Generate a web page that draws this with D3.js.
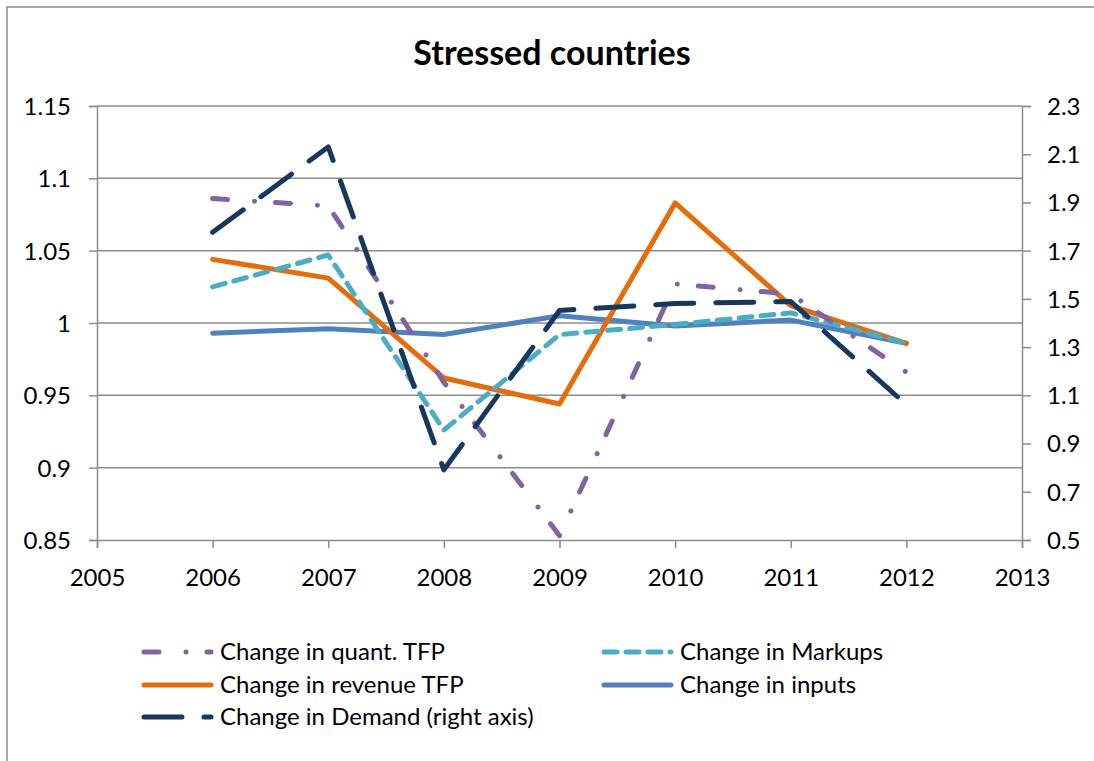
<!DOCTYPE html>
<html><head><meta charset="utf-8">
<script src="https://cdn.jsdelivr.net/npm/d3@7"></script>
<style>body{margin:0;background:#fff;} svg{display:block;} text{font-family:Lato, "Open Sans", sans-serif;fill:#000;}</style>
</head><body>
<svg id="c" width="1094" height="761"></svg>
<script>
const years = [2006, 2007, 2008, 2009, 2010, 2011, 2012];
const quantTFP   = [1.086, 1.081, 0.959, 0.853, 1.027, 1.020, 0.966];
const markups    = [1.025, 1.047, 0.926, 0.992, 0.999, 1.007, 0.986];
const revenueTFP = [1.044, 1.031, 0.962, 0.944, 1.083, 1.012, 0.986];
const inputs     = [0.993, 0.996, 0.992, 1.005, 0.998, 1.002, 0.986];
const demand     = [1.776, 2.130, 0.791, 1.452, 1.481, 1.489, 1.061];
const leftTicks  = [0.85, 0.9, 0.95, 1, 1.05, 1.1, 1.15];
const rightTicks = [0.5, 0.7, 0.9, 1.1, 1.3, 1.5, 1.7, 1.9, 2.1, 2.3];
const xTicks     = [2005, 2006, 2007, 2008, 2009, 2010, 2011, 2012, 2013];

const svg = d3.select("#c");
const L = 97, R = 1022, T = 106, B = 540;
const x = d3.scaleLinear().domain([2005, 2013]).range([L, R]);
const yL = d3.scaleLinear().domain([0.85, 1.15]).range([B, T]);
const yR = d3.scaleLinear().domain([0.5, 2.3]).range([B, T]);

// frame
svg.append("rect").attr("x", 7).attr("y", 7).attr("width", 1100).attr("height", 800)
  .attr("fill", "none").attr("stroke", "#8c8c8c").attr("stroke-width", 1.5);

// title
svg.append("text").attr("x", 552).attr("y", 65).attr("text-anchor", "middle")
  .style("font-size", "34px").style("font-weight", "bold").text("Stressed countries");

// gridlines
svg.append("g").selectAll("line").data(leftTicks.slice(1)).join("line")
  .attr("x1", L).attr("x2", R).attr("y1", d => yL(d)).attr("y2", d => yL(d))
  .attr("stroke", "#8c8c8c").attr("stroke-width", 1.5);

const gray = "#8c8c8c";
const ga = svg.append("g").attr("transform", `translate(${L},0)`)
  .call(d3.axisLeft(yL).tickValues(leftTicks).tickSize(8).tickPadding(18).tickFormat(d => String(+d.toFixed(2))));
const gr = svg.append("g").attr("transform", `translate(${R},0)`)
  .call(d3.axisRight(yR).tickValues(rightTicks).tickSize(9).tickPadding(16).tickFormat(d => String(+d.toFixed(1))));
const gb = svg.append("g").attr("transform", `translate(0,${B})`)
  .call(d3.axisBottom(x).tickValues(xTicks).tickSize(8).tickPadding(21).tickFormat(d3.format("d")));
[ga, gr, gb].forEach(g => {
  g.select(".domain").attr("stroke", gray).attr("stroke-width", 1.5);
  g.selectAll(".tick line").attr("stroke", gray).attr("stroke-width", 1.5);
  g.selectAll("text").style("font-size", "24px").attr("fill", "#000");
});
ga.selectAll("text").attr("dy", "0.35em");
gr.selectAll("text").attr("dy", "0.35em");

const series = [
  {name: "Change in quant. TFP", vals: quantTFP, y: yL, color: "#8064A2", dash: "15,27,0.01,21"},
  {name: "Change in Markups", vals: markups, y: yL, color: "#4BACC6", dash: "13,9"},
  {name: "Change in revenue TFP", vals: revenueTFP, y: yL, color: "#E46C0A", dash: null},
  {name: "Change in inputs", vals: inputs, y: yL, color: "#4F81BD", dash: null},
  {name: "Change in Demand (right axis)", vals: demand, y: yR, color: "#17375E", dash: "38,22"}
];
const drawOrder = [3, 2, 1, 0, 4];
drawOrder.forEach(i => {
  const s = series[i];
  const line = d3.line().x((d, j) => x(years[j])).y(d => s.y(d));
  svg.append("path").attr("d", line(s.vals)).attr("fill", "none")
    .attr("stroke", s.color).attr("stroke-width", 5)
    .attr("stroke-linecap", "round").attr("stroke-linejoin", "round")
    .attr("stroke-dasharray", s.dash);
});

// legend
const legPos = [[144, 652], [604, 652], [144, 685], [604, 685], [144, 717]];
series.forEach((s, i) => {
  const [lx, ly] = legPos[i];
  svg.append("line").attr("x1", lx).attr("x2", lx + 67).attr("y1", ly).attr("y2", ly)
    .attr("stroke", s.color).attr("stroke-width", 5).attr("stroke-linecap", "round")
    .attr("stroke-dasharray", s.dash);
  svg.append("text").attr("x", lx + 76).attr("y", ly).attr("dy", "0.35em")
    .style("font-size", "24px").text(s.name);
});
</script>
</body></html>
